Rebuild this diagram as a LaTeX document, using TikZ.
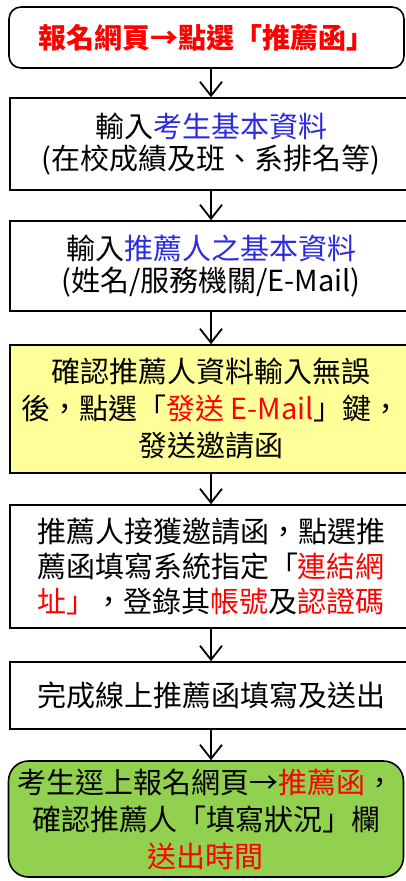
\documentclass[tikz,border=0pt]{standalone}
\usepackage{fontspec}
\setmainfont{Noto Sans CJK TC}
\usepackage{xcolor}
\usepackage{tikz}
\usetikzlibrary{arrows.meta}
\definecolor{boxyellow}{HTML}{FFFF99}
\definecolor{boxgreen}{HTML}{92D050}
\definecolor{infoblue}{HTML}{2B2BE0}

\begin{document}
\begin{tikzpicture}[x=1pt,y=-1pt,
	stepbox/.style={draw=black,line width=1.6pt,inner sep=0pt,align=center,
		minimum width=402pt,font=\fontsize{29}{35}\selectfont},
	endbox/.style={stepbox,rounded corners=12pt,minimum width=395pt},
	flow/.style={-{Straight Barb[length=14pt,width=22pt]},line width=1.8pt}]
	\useasboundingbox (0,0) rectangle (405,881);
	%
	\node[endbox,minimum height=61pt,font=\fontsize{28}{35}\bfseries\selectfont,text=red] (start) at (206.5,37.5)
		{報名網頁→點選「推薦函」};
	\node[stepbox,minimum height=92pt,font=\fontsize{29}{32}\selectfont] (cand) at (211,144)
		{輸入\textcolor{infoblue}{考生基本資料}\\(在校成績及班、系排名等)};
	\node[stepbox,minimum height=90pt,font=\fontsize{29}{32}\selectfont] (ref) at (211,266)
		{輸入\textcolor{infoblue}{推薦人之基本資料}\\(姓名/服務機關/E-Mail)};
	\node[stepbox,fill=boxyellow,minimum height=128pt,font=\fontsize{29}{37}\selectfont] (mail) at (211,409)
		{確認推薦人資料輸入無誤\\後，點選「\textcolor{red}{發送 E-Mail}」鍵，\\發送邀請函};
	\node[stepbox,minimum height=123pt] (link) at (211,566.5)
		{推薦人接獲邀請函，點選推\\薦函填寫系統指定「\textcolor{red}{連結網}\\\textcolor{red}{址」}，登錄其\textcolor{red}{帳號}及\textcolor{red}{認證碼}};
	\node[stepbox,minimum height=67pt] (done) at (211,695.5)
		{完成線上推薦函填寫及送出};
	\node[endbox,fill=boxgreen,rounded corners=20pt,minimum height=116pt,font=\fontsize{29}{37}\selectfont] (check) at (206,819)
		{考生逕上報名網頁→\textcolor{red}{推薦函}，\\確認推薦人「填寫狀況」欄\\\textcolor{red}{送出時間}};
	%
	\draw[flow] (start.south -| cand.north) -- (cand.north);
	\draw[flow] (cand) -- (ref);
	\draw[flow] (ref) -- (mail);
	\draw[flow] (mail) -- (link);
	\draw[flow] (link) -- (done);
	\draw[flow] (done.south) -- (done.south |- check.north);
\end{tikzpicture}
\end{document}
